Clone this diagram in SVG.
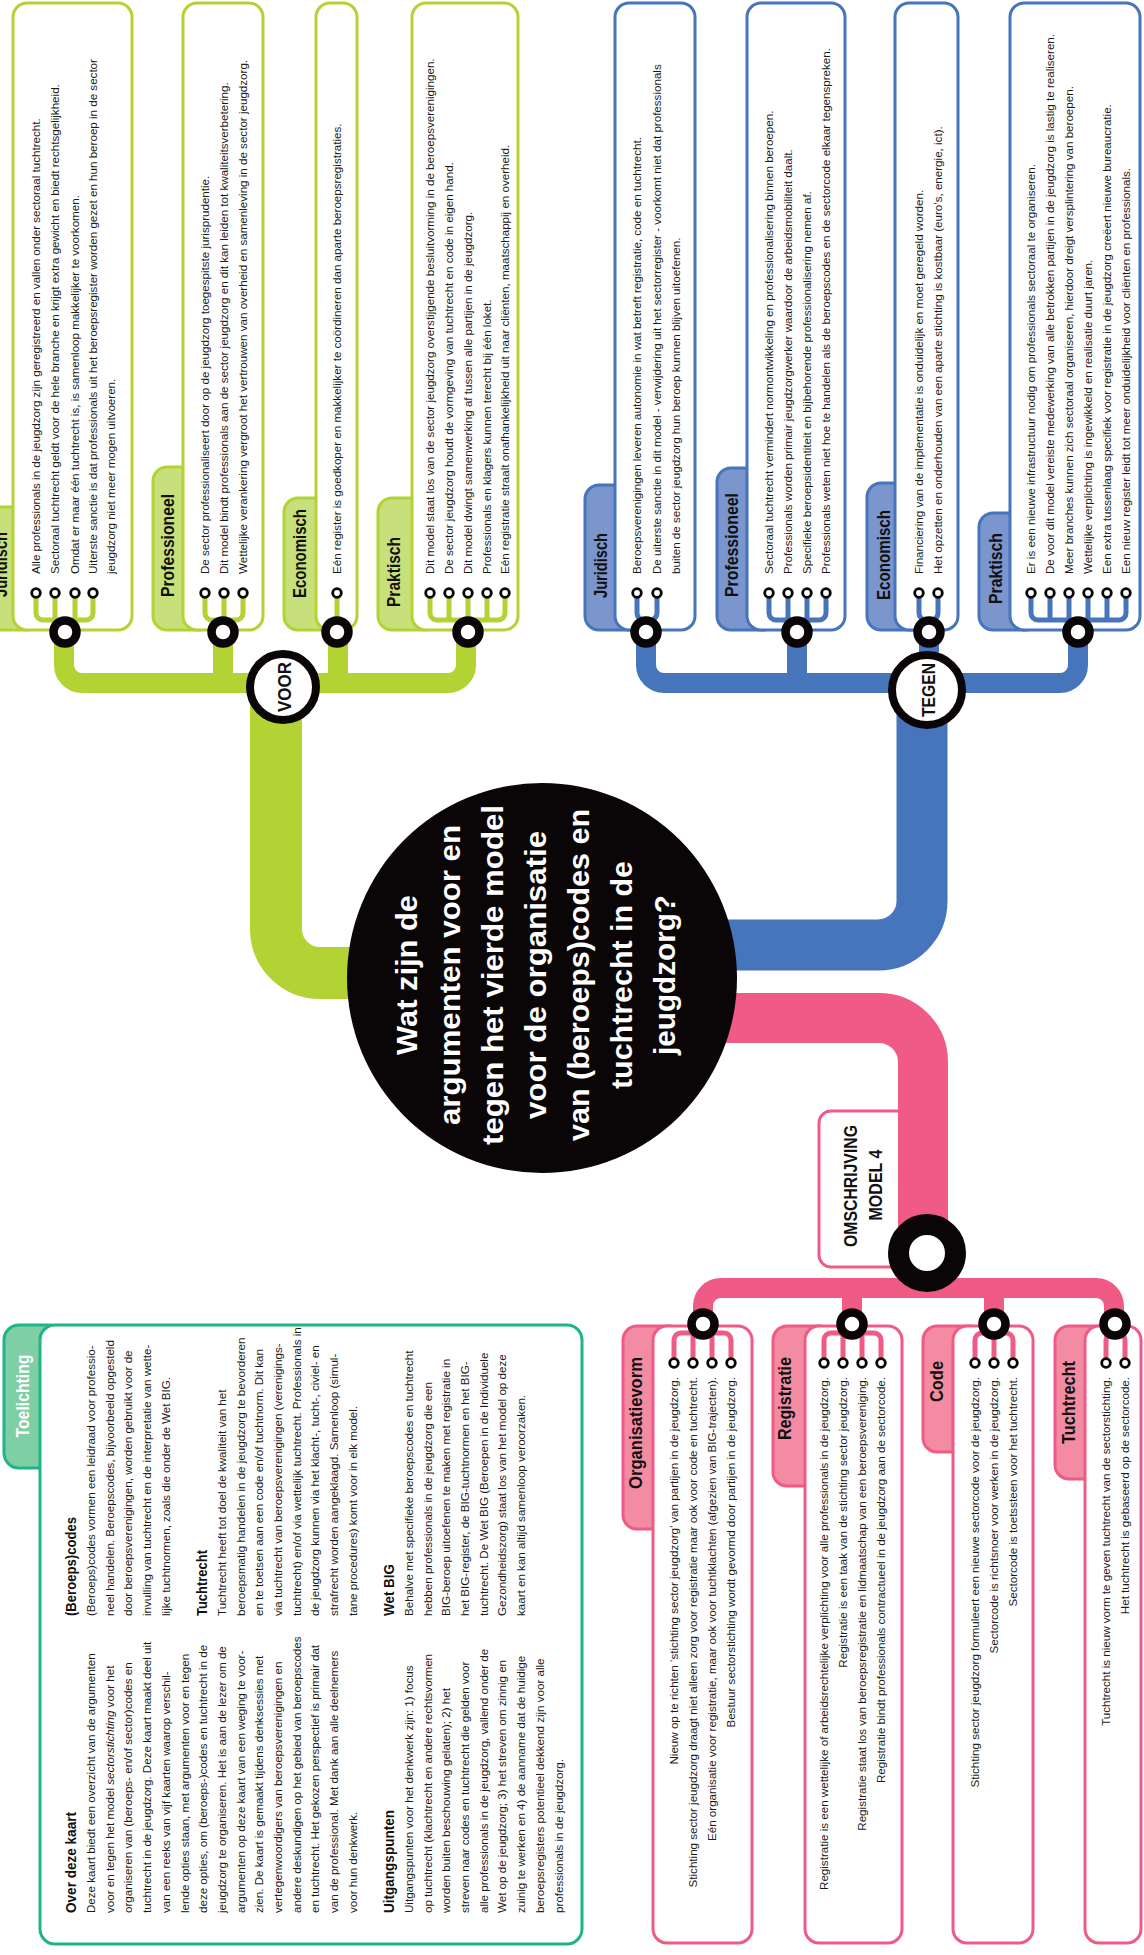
<svg xmlns="http://www.w3.org/2000/svg" width="1144" height="1955" viewBox="0 0 1144 1955">
<style>
.t{font-family:"Liberation Sans",Arial,sans-serif;font-size:11.6px;fill:#1a1a1a}
.e{text-anchor:end}
.m{text-anchor:middle}
.h{font-family:"Liberation Sans",Arial,sans-serif;font-size:19px;font-weight:bold;fill:#111}
.th{font-family:"Liberation Sans",Arial,sans-serif;font-size:15px;font-weight:bold;fill:#111}
.q{font-family:"Liberation Sans",Arial,sans-serif;font-size:29px;font-weight:bold;fill:#fff}
.box{fill:#fff;stroke-width:3}
.gs{stroke:#b3d335}.bs{stroke:#4775bb}.ps{stroke:#ef5b84}.ts{stroke:#1fb584}
.gt{fill:#c8e07b;stroke:#b3d335;stroke-width:3}
.bt{fill:#7b95cd;stroke:#4775bb;stroke-width:3}
.pt{fill:#f38ca2;stroke:#ef5b84;stroke-width:3}
.tt{fill:#7fcea6;stroke:#1fb584;stroke-width:3}
.ring{fill:#fff;stroke:#0a0506;stroke-width:8.5}
.dot{fill:#fff;stroke:#0a0506;stroke-width:2.8}
.comb{fill:none;stroke-width:5}
</style>

<!-- Toelichting -->
<g id="toelichting">
<rect class="tt" x="4" y="1325" width="60" height="143" rx="15"/>
<rect class="box ts" x="40" y="1325" width="542" height="619" rx="15"/>
<g transform="rotate(-90)">
<text class="h m" x="-1396" y="29" fill="#fff" style="fill:#fff" textLength="83" lengthAdjust="spacingAndGlyphs">Toelichting</text>
<text class="th" x="-1913" y="76.3" textLength="101" lengthAdjust="spacingAndGlyphs">Over deze kaart</text>
<text class="t">
<tspan x="-1913" y="95">Deze kaart biedt een overzicht van de argumenten</tspan>
<tspan x="-1913" y="113.7">voor en tegen het model <tspan font-style="italic">sectorstichting</tspan> voor het</tspan>
<tspan x="-1913" y="132.4">organiseren van (beroeps- en/of sector)codes en</tspan>
<tspan x="-1913" y="151.1">tuchtrecht in de jeugdzorg. Deze kaart maakt deel uit</tspan>
<tspan x="-1913" y="169.8">van een reeks van vijf kaarten waarop verschil-</tspan>
<tspan x="-1913" y="188.5">lende opties staan, met argumenten voor en tegen</tspan>
<tspan x="-1913" y="207.2">deze opties, om (beroeps-)codes en tuchtrecht in de</tspan>
<tspan x="-1913" y="225.9">jeugdzorg te organiseren. Het is aan de lezer om de</tspan>
<tspan x="-1913" y="244.6">argumenten op deze kaart van een weging te voor-</tspan>
<tspan x="-1913" y="263.3">zien. De kaart is gemaakt tijdens denksessies met</tspan>
<tspan x="-1913" y="282">vertegenwoordigers van beroepsverenigingen en</tspan>
<tspan x="-1913" y="300.7">andere deskundigen op het gebied van beroepscodes</tspan>
<tspan x="-1913" y="319.4">en tuchtrecht. Het gekozen perspectief is primair dat</tspan>
<tspan x="-1913" y="338.1">van de professional. Met dank aan alle deelnemers</tspan>
<tspan x="-1913" y="356.8">voor hun denkwerk.</tspan>
</text>
<text class="th" x="-1913" y="394.2" textLength="103" lengthAdjust="spacingAndGlyphs">Uitgangspunten</text>
<text class="t">
<tspan x="-1913" y="412.9">Uitgangspunten voor het denkwerk zijn: 1) focus</tspan>
<tspan x="-1913" y="431.6">op tuchtrecht (klachtrecht en andere rechtsvormen</tspan>
<tspan x="-1913" y="450.3">worden buiten beschouwing gelaten); 2) het</tspan>
<tspan x="-1913" y="469">streven naar codes en tuchtrecht die gelden voor</tspan>
<tspan x="-1913" y="487.7">alle professionals in de jeugdzorg, vallend onder de</tspan>
<tspan x="-1913" y="506.4">Wet op de jeugdzorg; 3) het streven om zinnig en</tspan>
<tspan x="-1913" y="525.1">zuinig te werken en 4) de aanname dat de huidige</tspan>
<tspan x="-1913" y="543.8">beroepsregisters potentieel dekkend zijn voor alle</tspan>
<tspan x="-1913" y="562.5">professionals in de jeugdzorg.</tspan>
</text>
<text class="th" x="-1616" y="76.3" textLength="99" lengthAdjust="spacingAndGlyphs">(Beroeps)codes</text>
<text class="t">
<tspan x="-1616" y="95">(Beroeps)codes vormen een leidraad voor professio-</tspan>
<tspan x="-1616" y="113.7">neel handelen. Beroepscodes, bijvoorbeeld opgesteld</tspan>
<tspan x="-1616" y="132.4">door beroepsverenigingen, worden gebruikt voor de</tspan>
<tspan x="-1616" y="151.1">invulling van tuchtrecht en de interpretatie van wette-</tspan>
<tspan x="-1616" y="169.8">lijke tuchtnormen, zoals die onder de Wet BIG.</tspan>
</text>
<text class="th" x="-1616" y="207.2" textLength="66" lengthAdjust="spacingAndGlyphs">Tuchtrecht</text>
<text class="t">
<tspan x="-1616" y="225.9">Tuchtrecht heeft tot doel de kwaliteit van het</tspan>
<tspan x="-1616" y="244.6">beroepsmatig handelen in de jeugdzorg te bevorderen</tspan>
<tspan x="-1616" y="263.3">en te toetsen aan een code en/of tuchtnorm. Dit kan</tspan>
<tspan x="-1616" y="282">via tuchtrecht van beroepsverenigingen (verenigings-</tspan>
<tspan x="-1616" y="300.7">tuchtrecht) en/of via wettelijk tuchtrecht. Professionals in</tspan>
<tspan x="-1616" y="319.4">de jeugdzorg kunnen via het klacht-, tucht-, civiel- en</tspan>
<tspan x="-1616" y="338.1">strafrecht worden aangeklaagd. Samenloop (simul-</tspan>
<tspan x="-1616" y="356.8">tane procedures) komt voor in elk model.</tspan>
</text>
<text class="th" x="-1616" y="394.2" textLength="52" lengthAdjust="spacingAndGlyphs">Wet BIG</text>
<text class="t">
<tspan x="-1616" y="412.9">Behalve met specifieke beroepscodes en tuchtrecht</tspan>
<tspan x="-1616" y="431.6">hebben professionals in de jeugdzorg die een</tspan>
<tspan x="-1616" y="450.3">BIG-beroep uitoefenen te maken met registratie in</tspan>
<tspan x="-1616" y="469">het BIG-register, de BIG-tuchtnormen en het BIG-</tspan>
<tspan x="-1616" y="487.7">tuchtrecht. De Wet BIG (Beroepen in de Individuele</tspan>
<tspan x="-1616" y="506.4">Gezondheidszorg) staat los van het model op deze</tspan>
<tspan x="-1616" y="525.1">kaart en kan altijd samenloop veroorzaken.</tspan>
</text>
</g>
</g>

<!-- VOOR boxes -->
<g id="voor-juridisch">
<rect class="gt" x="-20" y="507" width="60" height="123" rx="14"/>
<rect class="box gs" x="13" y="3" width="119" height="627" rx="14"/>
<g transform="rotate(-90)">
<text class="h" x="-597" y="7" textLength="65" lengthAdjust="spacingAndGlyphs">Juridisch</text>
<text class="t" x="-574" y="40">Alle professionals in de jeugdzorg zijn geregistreerd en vallen onder sectoraal tuchtrecht.</text>
<text class="t" x="-574" y="59">Sectoraal tuchtrecht geldt voor de hele branche en krijgt extra gewicht en biedt rechtsgelijkheid.</text>
<text class="t" x="-574" y="79">Omdat er maar één tuchtrecht is, is samenloop makkelijker te voorkomen.</text>
<text class="t" x="-574" y="97">Uiterste sanctie is dat professionals uit het beroepsregister worden gezet en hun beroep in de sector</text>
<text class="t" x="-574" y="115">jeugdzorg niet meer mogen uitvoeren.</text>
</g>
</g>
<g id="voor-professioneel">
<rect class="gt" x="153" y="467" width="60" height="163" rx="14"/>
<rect class="box gs" x="183" y="3" width="80" height="627" rx="14"/>
<g transform="rotate(-90)">
<text class="h" x="-597" y="174" textLength="103" lengthAdjust="spacingAndGlyphs">Professioneel</text>
<text class="t" x="-574" y="209">De sector professionaliseert door op de jeugdzorg toegespitste jurisprudentie.</text>
<text class="t" x="-574" y="228">Dit model bindt professionals aan de sector jeugdzorg en dit kan leiden tot kwaliteitsverbetering.</text>
<text class="t" x="-574" y="247">Wettelijke verankering vergroot het vertrouwen van overheid en samenleving in de sector jeugdzorg.</text>
</g>
</g>
<g id="voor-economisch">
<rect class="gt" x="284" y="498" width="60" height="132" rx="14"/>
<rect class="box gs" x="316" y="3" width="41" height="627" rx="14"/>
<g transform="rotate(-90)">
<text class="h" x="-598" y="306" textLength="89" lengthAdjust="spacingAndGlyphs">Economisch</text>
<text class="t" x="-574" y="341">Eén register is goedkoper en makkelijker te coördineren dan aparte beroepsregistraties.</text>
</g>
</g>
<g id="voor-praktisch">
<rect class="gt" x="378" y="498" width="60" height="132" rx="14"/>
<rect class="box gs" x="412" y="3" width="106" height="627" rx="14"/>
<g transform="rotate(-90)">
<text class="h" x="-607" y="400" textLength="70" lengthAdjust="spacingAndGlyphs">Praktisch</text>
<text class="t" x="-574" y="434">Dit model staat los van de sector jeugdzorg overstijgende besluitvorming in de beroepsverenigingen.</text>
<text class="t" x="-574" y="453">De sector jeugdzorg houdt de vormgeving van tuchtrecht en code in eigen hand.</text>
<text class="t" x="-574" y="472">Dit model dwingt samenwerking af tussen alle partijen in de jeugdzorg.</text>
<text class="t" x="-574" y="491">Professionals en klagers kunnen terecht bij één loket.</text>
<text class="t" x="-574" y="509">Eén registratie straalt onafhankelijkheid uit naar cliënten, maatschappij en overheid.</text>
</g>
</g>

<!-- TEGEN boxes -->
<g id="tegen-juridisch">
<rect class="bt" x="585" y="485" width="60" height="145" rx="14"/>
<rect class="box bs" x="615" y="3" width="80" height="627" rx="14"/>
<g transform="rotate(-90)">
<text class="h" x="-598" y="607" textLength="65" lengthAdjust="spacingAndGlyphs">Juridisch</text>
<text class="t" x="-574" y="641">Beroepsverenigingen leveren autonomie in wat betreft registratie, code en tuchtrecht.</text>
<text class="t" x="-574" y="661">De uiterste sanctie in dit model - verwijdering uit het sectorregister - voorkomt niet dat professionals</text>
<text class="t" x="-574" y="680">buiten de sector jeugdzorg hun beroep kunnen blijven uitoefenen.</text>
</g>
</g>
<g id="tegen-professioneel">
<rect class="bt" x="717" y="468" width="60" height="162" rx="14"/>
<rect class="box bs" x="747" y="3" width="98" height="627" rx="14"/>
<g transform="rotate(-90)">
<text class="h" x="-597" y="738" textLength="104" lengthAdjust="spacingAndGlyphs">Professioneel</text>
<text class="t" x="-574" y="773">Sectoraal tuchtrecht vermindert normontwikkeling en professionalisering binnen beroepen.</text>
<text class="t" x="-574" y="792">Professionals worden primair jeugdzorgwerker waardoor de arbeidsmobiliteit daalt.</text>
<text class="t" x="-574" y="811">Specifieke beroepsidentiteit en bijbehorende professionalisering nemen af.</text>
<text class="t" x="-574" y="830">Professionals weten niet hoe te handelen als de beroepscodes en de sectorcode elkaar tegenspreken.</text>
</g>
</g>
<g id="tegen-economisch">
<rect class="bt" x="867" y="483" width="60" height="147" rx="14"/>
<rect class="box bs" x="895" y="3" width="63" height="627" rx="14"/>
<g transform="rotate(-90)">
<text class="h" x="-600" y="890" textLength="90" lengthAdjust="spacingAndGlyphs">Economisch</text>
<text class="t" x="-574" y="923">Financiering van de implementatie is onduidelijk en moet geregeld worden.</text>
<text class="t" x="-574" y="942">Het opzetten en onderhouden van een aparte stichting is kostbaar (euro’s, energie, ict).</text>
</g>
</g>
<g id="tegen-praktisch">
<rect class="bt" x="979" y="513" width="60" height="117" rx="14"/>
<rect class="box bs" x="1010" y="3" width="130" height="627" rx="14"/>
<g transform="rotate(-90)">
<text class="h" x="-604" y="1002" textLength="71" lengthAdjust="spacingAndGlyphs">Praktisch</text>
<text class="t" x="-574" y="1035">Er is een nieuwe infrastructuur nodig om professionals sectoraal te organiseren.</text>
<text class="t" x="-574" y="1054">De voor dit model vereiste medewerking van alle betrokken partijen in de jeugdzorg is lastig te realiseren.</text>
<text class="t" x="-574" y="1073">Meer branches kunnen zich sectoraal organiseren, hierdoor dreigt versplintering van beroepen.</text>
<text class="t" x="-574" y="1092">Wettelijke verplichting is ingewikkeld en realisatie duurt jaren.</text>
<text class="t" x="-574" y="1111">Een extra tussenlaag specifiek voor registratie in de jeugdzorg creëert nieuwe bureaucratie.</text>
<text class="t" x="-574" y="1130">Een nieuw register leidt tot meer onduidelijkheid voor cliënten en professionals.</text>
</g>
</g>

<!-- Model 4 boxes -->
<g id="omschrijving">
<rect class="box ps" x="819" y="1111" width="95" height="156" rx="12"/>
<g transform="rotate(-90)">
<text class="h m" x="-1186" y="857" textLength="122" lengthAdjust="spacingAndGlyphs">OMSCHRIJVING</text>
<text class="h m" x="-1185" y="882" textLength="71" lengthAdjust="spacingAndGlyphs">MODEL 4</text>
</g>
</g>
<g id="m4-organisatievorm">
<rect class="pt" x="623" y="1326" width="60" height="203" rx="14"/>
<rect class="box ps" x="653" y="1326" width="99" height="617" rx="14"/>
<g transform="rotate(-90)">
<text class="h e" x="-1357" y="642" textLength="132" lengthAdjust="spacingAndGlyphs">Organisatievorm</text>
<text class="t e" x="-1377" y="678">Nieuw op te richten ‘stichting sector jeugdzorg’ van partijen in de jeugdzorg.</text>
<text class="t e" x="-1377" y="697">Stichting sector jeugdzorg draagt niet alleen zorg voor registratie maar ook voor code en tuchtrecht.</text>
<text class="t e" x="-1377" y="716">Eén organisatie voor registratie, maar ook voor tuchtklachten (afgezien van BIG-trajecten).</text>
<text class="t e" x="-1377" y="735">Bestuur sectorstichting wordt gevormd door partijen in de jeugdzorg.</text>
</g>
</g>
<g id="m4-registratie">
<rect class="pt" x="773" y="1326" width="60" height="160" rx="14"/>
<rect class="box ps" x="805" y="1326" width="97" height="617" rx="14"/>
<g transform="rotate(-90)">
<text class="h e" x="-1357" y="791" textLength="83" lengthAdjust="spacingAndGlyphs">Registratie</text>
<text class="t e" x="-1377" y="828">Registratie is een wettelijke of arbeidsrechtelijke verplichting voor alle professionals in de jeugdzorg.</text>
<text class="t e" x="-1377" y="847">Registratie is een taak van de stichting sector jeugdzorg.</text>
<text class="t e" x="-1377" y="866">Registratie staat los van beroepsregistratie en lidmaatschap van een beroepsvereniging.</text>
<text class="t e" x="-1377" y="885">Registratie bindt professionals contractueel in de jeugdzorg aan de sectorcode.</text>
</g>
</g>
<g id="m4-code">
<rect class="pt" x="923" y="1326" width="60" height="126" rx="14"/>
<rect class="box ps" x="953" y="1326" width="80" height="617" rx="14"/>
<g transform="rotate(-90)">
<text class="h e" x="-1361" y="943" textLength="41" lengthAdjust="spacingAndGlyphs">Code</text>
<text class="t e" x="-1377" y="979">Stichting sector jeugdzorg formuleert een nieuwe sectorcode voor de jeugdzorg.</text>
<text class="t e" x="-1377" y="998">Sectorcode is richtsnoer voor werken in de jeugdzorg.</text>
<text class="t e" x="-1377" y="1017">Sectorcode is toetssteen voor het tuchtrecht.</text>
</g>
</g>
<g id="m4-tuchtrecht">
<rect class="pt" x="1055" y="1326" width="60" height="153" rx="14"/>
<rect class="box ps" x="1085" y="1326" width="56" height="617" rx="14"/>
<g transform="rotate(-90)">
<text class="h e" x="-1361" y="1075" textLength="83" lengthAdjust="spacingAndGlyphs">Tuchtrecht</text>
<text class="t e" x="-1377" y="1110">Tuchtrecht is nieuw vorm te geven tuchtrecht van de sectorstichting.</text>
<text class="t e" x="-1377" y="1129">Het tuchtrecht is gebaseerd op de sectorcode.</text>
</g>
</g>

<!-- connectors -->
<g id="connectors" fill="none">
<path d="M276 687 V929 A44 44 0 0 0 320 973 H420" stroke="#b3d335" stroke-width="52"/>
<path d="M922 690 V901 A44 44 0 0 1 878 945 H700" stroke="#4775bb" stroke-width="51"/>
<path d="M700 1018 H879 A44 44 0 0 1 923 1062 V1253" stroke="#ef5b84" stroke-width="50"/>
<g stroke="#b3d335" stroke-width="20">
<path d="M64 632 V665 A18 18 0 0 0 82 683 H448 A18 18 0 0 0 466 665 V632"/>
<path d="M223 632 V683 M338 632 V683"/>
</g>
<g stroke="#4775bb" stroke-width="20">
<path d="M646 632 V665 A18 18 0 0 0 664 683 H1060 A18 18 0 0 0 1078 665 V632"/>
<path d="M797 632 V683 M929 632 V683"/>
</g>
<g stroke="#ef5b84" stroke-width="20">
<path d="M703 1324 V1306 A18 18 0 0 1 721 1288 H1096 A18 18 0 0 1 1114 1306 V1324"/>
<path d="M852 1288 V1324 M994 1288 V1324 M927 1253 V1288"/>
</g>
<g class="comb" stroke="#b3d335">
<path d="M36 593 V613 A7 7 0 0 0 43 620 H86 A7 7 0 0 0 93 613 V593 M55 593 V620 M75 593 V620 M65 620 V632"/>
<path d="M205 593 V613 A7 7 0 0 0 212 620 H236 A7 7 0 0 0 243 613 V593 M224 593 V632"/>
<path d="M337 593 V632"/>
<path d="M430 593 V613 A7 7 0 0 0 437 620 H498 A7 7 0 0 0 505 613 V593 M449 593 V620 M468 593 V632 M487 593 V620"/>
</g>
<g class="comb" stroke="#4775bb">
<path d="M637 593 V613 A7 7 0 0 0 644 620 H650 A7 7 0 0 0 657 613 V593 M646 620 V632"/>
<path d="M769 593 V613 A7 7 0 0 0 776 620 H819 A7 7 0 0 0 826 613 V593 M788 593 V620 M807 593 V620 M797 620 V632"/>
<path d="M919 593 V613 A7 7 0 0 0 926 620 H931 A7 7 0 0 0 938 613 V593 M929 620 V632"/>
<path d="M1031 593 V613 A7 7 0 0 0 1038 620 H1119 A7 7 0 0 0 1126 613 V593 M1050 593 V620 M1069 593 V620 M1088 593 V620 M1107 593 V620 M1078 620 V632"/>
</g>
<g class="comb" stroke="#ef5b84">
<path d="M674 1363 V1340 A7 7 0 0 1 681 1333 H724 A7 7 0 0 1 731 1340 V1363 M693 1363 V1333 M712 1363 V1333 M703 1324 V1333"/>
<path d="M824 1363 V1340 A7 7 0 0 1 831 1333 H874 A7 7 0 0 1 881 1340 V1363 M843 1363 V1333 M862 1363 V1333 M852 1324 V1333"/>
<path d="M975 1363 V1340 A7 7 0 0 1 982 1333 H1006 A7 7 0 0 1 1013 1340 V1363 M994 1363 V1324"/>
<path d="M1106 1363 V1340 A7 7 0 0 1 1113 1333 H1118 A7 7 0 0 1 1125 1340 V1363 M1115 1324 V1333"/>
</g>
</g>

<!-- junction markers -->
<g id="junctions">
<circle class="ring" cx="65" cy="632" r="11.5"/>
<circle class="ring" cx="223" cy="632" r="11.5"/>
<circle class="ring" cx="337" cy="632" r="11.5"/>
<circle class="ring" cx="468" cy="632" r="11.5"/>
<circle class="ring" cx="646" cy="632" r="11.5"/>
<circle class="ring" cx="797" cy="632" r="11.5"/>
<circle class="ring" cx="929" cy="632" r="11.5"/>
<circle class="ring" cx="1078" cy="632" r="11.5"/>
<circle class="ring" cx="703" cy="1324" r="11.5"/>
<circle class="ring" cx="852" cy="1324" r="11.5"/>
<circle class="ring" cx="994" cy="1324" r="11.5"/>
<circle class="ring" cx="1115" cy="1324" r="11.5"/>
<circle cx="927" cy="1253" r="28.5" fill="#fff" stroke="#0a0506" stroke-width="21"/>
<g class="dot">
<circle cx="36" cy="593" r="4.3"/><circle cx="55" cy="593" r="4.3"/><circle cx="75" cy="593" r="4.3"/><circle cx="93" cy="593" r="4.3"/>
<circle cx="205" cy="593" r="4.3"/><circle cx="224" cy="593" r="4.3"/><circle cx="243" cy="593" r="4.3"/>
<circle cx="337" cy="593" r="4.3"/>
<circle cx="430" cy="593" r="4.3"/><circle cx="449" cy="593" r="4.3"/><circle cx="468" cy="593" r="4.3"/><circle cx="487" cy="593" r="4.3"/><circle cx="505" cy="593" r="4.3"/>
<circle cx="637" cy="593" r="4.3"/><circle cx="657" cy="593" r="4.3"/>
<circle cx="769" cy="593" r="4.3"/><circle cx="788" cy="593" r="4.3"/><circle cx="807" cy="593" r="4.3"/><circle cx="826" cy="593" r="4.3"/>
<circle cx="919" cy="593" r="4.3"/><circle cx="938" cy="593" r="4.3"/>
<circle cx="1031" cy="593" r="4.3"/><circle cx="1050" cy="593" r="4.3"/><circle cx="1069" cy="593" r="4.3"/><circle cx="1088" cy="593" r="4.3"/><circle cx="1107" cy="593" r="4.3"/><circle cx="1126" cy="593" r="4.3"/>
<circle cx="674" cy="1363" r="4.3"/><circle cx="693" cy="1363" r="4.3"/><circle cx="712" cy="1363" r="4.3"/><circle cx="731" cy="1363" r="4.3"/>
<circle cx="824" cy="1363" r="4.3"/><circle cx="843" cy="1363" r="4.3"/><circle cx="862" cy="1363" r="4.3"/><circle cx="881" cy="1363" r="4.3"/>
<circle cx="975" cy="1363" r="4.3"/><circle cx="994" cy="1363" r="4.3"/><circle cx="1013" cy="1363" r="4.3"/>
<circle cx="1106" cy="1363" r="4.3"/><circle cx="1125" cy="1363" r="4.3"/>
</g>
</g>

<!-- hub nodes -->
<g id="voor">
<circle cx="283" cy="687" r="33" fill="#fff" stroke="#0a0506" stroke-width="8"/>
<text class="h m" transform="rotate(-90)" x="-687" y="290.5" font-size="21" textLength="50" lengthAdjust="spacingAndGlyphs">VOOR</text>
</g>
<g id="tegen">
<circle cx="927" cy="690" r="35" fill="#fff" stroke="#0a0506" stroke-width="8"/>
<text class="h m" transform="rotate(-90)" x="-690" y="935" font-size="21" textLength="54" lengthAdjust="spacingAndGlyphs">TEGEN</text>
</g>
<g id="vraag">
<circle cx="542" cy="978" r="195" fill="#0a0506"/>
<g transform="rotate(-90)">
<text class="q m" x="-975" y="417" textLength="160" lengthAdjust="spacingAndGlyphs">Wat zijn de</text>
<text class="q m" x="-975" y="460" textLength="300" lengthAdjust="spacingAndGlyphs">argumenten voor en</text>
<text class="q m" x="-975" y="503" textLength="340" lengthAdjust="spacingAndGlyphs">tegen het vierde model</text>
<text class="q m" x="-975" y="546" textLength="288" lengthAdjust="spacingAndGlyphs">voor de organisatie</text>
<text class="q m" x="-975" y="589" textLength="332" lengthAdjust="spacingAndGlyphs">van (beroeps)codes en</text>
<text class="q m" x="-975" y="632" textLength="228" lengthAdjust="spacingAndGlyphs">tuchtrecht in de</text>
<text class="q m" x="-975" y="675" textLength="160" lengthAdjust="spacingAndGlyphs">jeugdzorg?</text>
</g>
</g>
</svg>
